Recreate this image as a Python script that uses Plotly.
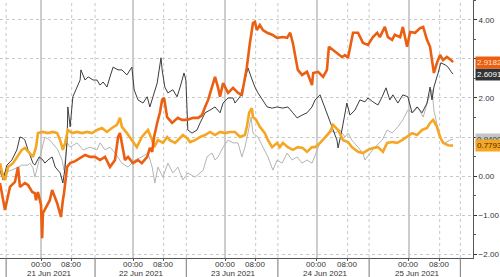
import plotly.graph_objects as go

# time in hours since 21 Jun 2021 00:00, value
orange = [(-10.7,-0.18),(-9.4,-0.87),(-8.1,-0.28),(-6.8,-0.15),(-6.0,0.23),(-5.5,-0.28),(-4.2,-0.18),(-3.4,-0.23),
          (-2.3,-0.41),(-1.6,-0.44),(-1.3,-0.62),(-0.8,-0.41),(0.0,-0.74),(0.3,-1.59),(0.5,-0.95),(1.6,-0.77),
          (2.3,-0.62),(2.9,-0.36),(3.7,-0.54),(4.2,-0.69),(4.7,-0.87),(5.2,-1.05),(5.7,-0.62),(6.0,-0.44),
          (6.8,0.23),(7.6,0.33),(8.9,0.38),(10.2,0.46),(11.5,0.54),(12.8,0.49),(14.1,0.49),(15.4,0.41),
          (16.7,0.49),(17.5,0.33),(18.0,0.23),(19.3,0.41),(20.1,1.00),(20.6,1.10),(21.9,0.41),(22.7,0.49),
          (24.0,0.33),(25.3,0.41),(26.3,0.33),(27.7,0.49),(28.4,0.72),(29.0,0.62),(29.5,1.00),(30.3,1.36),
          (31.0,1.62),(31.6,1.95),(32.1,2.00),(32.9,1.51),(34.2,1.36),(35.7,1.49),(36.8,1.44),(38.1,1.44),
          (39.7,1.49),(41.0,1.49),(42.0,1.56),(42.8,1.77),(43.6,1.95),(44.6,2.28),(45.4,2.54),(46.2,2.26),
          (46.7,2.03),(47.5,2.38),(48.8,2.13),(50.1,2.26),(50.6,2.21),(51.4,2.13),(52.4,2.08),(53.2,2.46),
          (53.7,2.79),(54.5,3.41),(55.3,3.92),(55.8,3.95),(56.3,3.74),(57.1,3.87),(57.9,3.74),(59.0,3.67),
          (60.3,3.62),(61.6,3.54),(63.1,3.56),(64.2,3.54),(65.0,3.67),(65.7,3.41),(66.3,3.05),(67.0,2.72),
          (68.1,2.59),(69.4,2.67),(70.2,2.46),(70.7,2.33),(71.0,2.64),(72.3,2.67),(73.6,2.54),(74.6,2.72),
          (75.1,3.31),(76.2,3.23),(77.2,3.15),(78.5,3.05),(79.3,3.10),(80.1,3.03),(81.4,3.67),(82.7,3.67),
          (84.0,3.41),(85.3,3.36),(86.6,3.56),(87.7,3.67),(88.4,3.56),(89.7,3.82),(90.5,3.56),(91.6,3.49),
          (92.3,3.62),(93.7,3.56),(94.4,3.82),(95.5,3.31),(96.3,3.69),(97.6,3.67),(98.9,3.79),(99.7,3.82),
          (100.7,3.49),(101.5,3.31),(102.0,2.97),(102.5,2.64),(103.3,2.90),(104.1,3.10),(104.9,2.97),
          (105.9,3.05),(107.0,2.97),(107.5,2.92)]

dark = [(-10.7,0.15),(-9.9,-0.10),(-8.9,0.28),(-7.6,0.41),(-6.3,0.67),(-5.5,1.00),(-4.7,0.97),(-4.2,0.92),
        (-3.4,0.67),(-2.1,0.33),(-1.6,0.28),(-0.5,0.49),(0.5,0.41),(1.0,0.33),(1.8,0.41),(2.9,0.49),
        (3.7,0.23),(4.4,0.15),(5.0,0.08),(5.7,-0.18),(6.3,0.23),(6.8,0.92),(7.0,1.77),(7.6,1.26),
        (8.3,2.03),(9.1,2.21),(10.2,2.46),(10.4,2.72),(11.5,2.46),(12.3,2.54),(13.6,2.46),(14.6,2.46),
        (15.4,2.33),(16.2,2.41),(17.2,2.28),(18.0,2.54),(18.8,2.79),(20.1,2.72),(21.1,2.72),(22.4,2.59),
        (23.7,2.79),(24.3,2.21),(25.3,1.95),(26.6,1.87),(27.7,2.03),(28.4,1.77),(29.2,2.03),(30.3,2.38),
        (31.3,3.03),(31.6,2.72),(32.3,2.28),(33.1,2.13),(34.4,2.21),(35.5,2.03),(36.3,2.28),(37.3,2.64),
        (37.8,2.46),(38.3,1.18),(39.4,1.10),(40.7,1.18),(41.5,1.36),(42.8,1.62),(44.1,1.69),(45.4,1.77),
        (46.7,1.62),(47.5,1.87),(48.8,2.00),(50.1,2.00),(50.6,1.87),(51.9,2.03),(53.2,2.46),(54.0,2.77),
        (54.8,2.54),(55.8,2.28),(56.6,2.13),(57.9,1.95),(59.0,1.77),(60.3,1.74),(61.6,1.77),(63.1,1.74),
        (64.4,1.77),(65.7,1.62),(66.8,1.49),(68.1,1.56),(69.4,1.62),(70.7,1.77),(71.5,1.95),(72.8,2.08),
        (73.6,1.87),(74.9,1.51),(75.9,1.26),(77.2,0.92),(77.5,0.72),(78.5,1.18),(79.8,1.87),(80.6,1.56),
        (81.9,1.69),(83.2,1.95),(84.5,1.90),(85.3,2.00),(86.6,1.90),(87.9,1.82),(89.0,2.03),(90.0,2.26),
        (91.0,1.95),(91.8,2.08),(93.1,1.87),(94.4,2.08),(95.7,2.03),(96.8,1.62),(98.1,1.77),(99.4,1.62),
        (100.7,1.87),(101.5,2.28),(102.0,1.95),(102.5,2.28),(103.6,2.64),(104.3,2.90),(105.4,2.85),
        (106.2,2.79),(107.0,2.67),(107.5,2.61)]

light = [(-10.7,0.03),(-8.9,0.10),(-7.6,0.15),(-6.3,0.21),(-5.0,0.28),(-3.4,0.28),(-2.9,0.33),(-2.1,0.21),
         (-1.6,-0.03),(-0.3,0.49),(1.0,1.00),(2.3,0.92),(3.7,0.74),(4.4,0.67),(5.5,0.41),(6.0,0.15),
         (6.8,0.85),(7.6,0.74),(9.4,0.85),(11.0,0.67),(12.8,0.74),(14.6,0.67),(15.4,0.85),(16.7,0.67),
         (18.0,0.74),(19.3,0.59),(21.1,0.33),(22.7,0.23),(24.5,0.41),(26.3,0.49),(27.9,0.59),(29.0,0.23),
         (29.7,-0.18),(30.5,0.23),(31.8,-0.03),(33.1,0.33),(34.4,0.08),(35.7,0.23),(37.0,-0.10),(38.3,0.08),
         (40.2,-0.03),(41.5,0.08),(42.3,0.15),(43.3,0.49),(44.6,0.59),(45.4,0.41),(46.2,0.49),(47.5,0.74),
         (48.8,0.92),(50.1,0.85),(51.4,0.85),(52.4,0.49),(53.2,0.74),(54.0,1.10),(54.8,1.51),(55.3,1.10),
         (56.6,1.00),(57.9,0.74),(59.2,0.49),(60.5,0.15),(61.6,0.41),(62.9,0.33),(64.2,0.59),(65.5,0.41),
         (66.8,0.49),(68.1,0.33),(69.4,0.41),(70.7,0.33),(71.7,0.59),(72.8,0.85),(74.1,1.00),(75.4,1.18),
         (76.7,1.10),(78.0,1.18),(79.3,1.00),(80.1,1.10),(81.1,0.92),(82.7,0.74),(84.0,0.59),(84.5,0.41),
         (85.8,0.59),(87.1,0.74),(89.0,0.92),(90.3,1.18),(91.6,1.10),(93.1,1.26),(94.4,1.44),(95.7,1.69),
         (97.0,1.62),(98.3,1.77),(99.7,1.51),(101.0,1.95),(102.0,2.21),(102.5,1.69),(103.6,1.18),
         (104.6,0.92),(105.4,0.85),(106.7,0.92),(107.5,0.94)]

gold = [(-10.7,0.33),(-9.9,-0.03),(-9.4,-0.10),(-8.6,0.23),(-7.3,0.33),(-6.3,0.49),(-5.0,0.67),(-4.2,0.72),
        (-2.9,0.59),(-2.1,0.49),(-1.3,0.74),(-0.8,1.10),(0.5,1.13),(1.8,1.10),(3.1,1.13),(4.2,1.10),
        (5.0,0.92),(5.7,0.67),(6.3,0.85),(7.0,1.18),(8.1,1.10),(9.4,1.13),(10.7,1.10),(12.0,1.13),
        (13.3,1.10),(14.6,1.18),(15.9,1.23),(17.2,1.13),(18.5,1.23),(19.8,1.31),(20.6,1.49),(21.1,1.26),
        (22.4,1.10),(23.7,0.92),(25.0,0.74),(26.3,1.00),(27.9,1.18),(29.0,0.92),(29.5,0.74),(30.5,0.92),
        (31.8,0.85),(32.9,1.00),(33.6,0.92),(35.0,0.85),(36.3,0.97),(37.0,1.05),(38.1,0.97),(38.9,0.87),
        (40.2,0.92),(41.5,1.00),(42.8,1.05),(44.1,1.13),(45.4,1.05),(46.7,1.13),(48.0,1.10),(49.3,1.13),
        (50.6,1.13),(51.9,1.00),(53.2,1.05),(53.7,1.26),(54.3,1.62),(55.0,1.74),(55.3,1.51),(56.1,1.44),
        (57.1,1.26),(58.4,1.10),(59.2,0.92),(60.3,0.74),(61.6,0.85),(62.3,0.74),(63.1,0.85),(64.4,0.74),
        (65.7,0.67),(67.0,0.74),(68.3,0.72),(69.4,0.62),(70.7,0.74),(71.5,0.74),(72.8,0.85),(74.1,1.00),
        (75.4,1.13),(76.2,1.31),(77.5,1.18),(78.8,0.92),(80.1,0.87),(81.1,0.74),(82.7,0.62),(84.0,0.59),
        (85.3,0.67),(86.6,0.72),(87.9,0.74),(89.2,0.62),(90.3,0.85),(91.6,0.87),(92.9,0.85),(94.2,0.92),
        (95.5,1.00),(96.8,1.10),(98.1,1.05),(99.4,1.18),(100.7,1.23),(101.5,1.36),(102.3,1.44),
        (103.3,1.26),(104.1,1.00),(104.9,0.85),(106.2,0.79),(107.5,0.78)]

last_labels = ["2.9182", "2.6091", "0.9400", "0.7793"]
last_values = [2.9182, 2.6091, 0.9400, 0.7793]

day_labels = ["21 Jun 2021", "22 Jun 2021", "23 Jun 2021", "24 Jun 2021", "25 Jun 2021"]
midnights = [0, 24, 48, 72, 96]
tick_hours = [0, 8, 24, 32, 48, 56, 72, 80, 96, 104]
tick_text = ["00:00", "08:00"] * 5
separators = [-9.1, 14.1, 37.9, 61.8, 85.6, 109.4]

series = [
    (light, "#b4b4b4", 1.0),
    (dark, "#3c3c3c", 1.0),
    (gold, "#f5a623", 2.6),
    (orange, "#eb5f12", 2.6),
]

fig = go.Figure()
for data, color, width in series:
    fig.add_trace(go.Scatter(x=[p[0] for p in data], y=[p[1] for p in data], mode="lines",
                             line=dict(color=color, width=width), hoverinfo="skip"))

shapes = []
for m in midnights:
    shapes.append(dict(type="line", xref="x", yref="paper", x0=m, x1=m, y0=0, y1=1,
                       line=dict(color="#9a9a9a", width=1), layer="below"))
for h in tick_hours:
    if h % 24 == 8:
        shapes.append(dict(type="line", xref="x", yref="paper", x0=h, x1=h, y0=0, y1=1,
                           line=dict(color="#c8c8c8", width=1, dash="dot"), layer="below"))
for s in separators:
    shapes.append(dict(type="line", xref="x", yref="paper", x0=s, x1=s, y0=0, y1=1,
                       line=dict(color="#c8c8c8", width=1, dash="dot"), layer="below"))
    shapes.append(dict(type="line", xref="x", yref="paper", x0=s, x1=s, y0=0, y1=-0.08,
                       line=dict(color="#777777", width=1)))

annotations = []
# time-of-day tick labels (first row under the axis)
for h, t in zip(tick_hours, tick_text):
    annotations.append(dict(x=h, y=-0.024, xref="x", yref="paper", text=t, showarrow=False,
                            xanchor="center", yanchor="middle", font=dict(size=8, color="#333333")))
# date labels (second row)
for i, lab in enumerate(day_labels):
    annotations.append(dict(x=midnights[i] + 2.3, y=-0.06, xref="x", yref="paper", text=lab,
                            showarrow=False, xanchor="center", yanchor="middle",
                            font=dict(size=8, color="#333333")))
# last-value tags on the right axis
label_specs = [
    (last_labels[2], last_values[2], "#c4c4c4", "#333333"),
    (last_labels[3], last_values[3], "#f5a623", "#4a2a00"),
    (last_labels[1], last_values[1], "#333333", "#ffffff"),
    (last_labels[0], last_values[0], "#eb5f12", "#ffe2cc"),
]
for text, val, bg, fc in label_specs:
    annotations.append(dict(x=1, y=val, xref="paper", yref="y", text=text, showarrow=False,
                            xanchor="left", yanchor="middle", xshift=2, bgcolor=bg, borderpad=1,
                            font=dict(size=8, color=fc)))

fig.update_layout(
    width=500, height=277,
    margin=dict(l=0, r=27, t=0, b=19, autoexpand=False),
    paper_bgcolor="white", plot_bgcolor="white",
    showlegend=False,
    font=dict(family="Liberation Sans, Arial, sans-serif", size=8, color="#333333"),
    shapes=shapes, annotations=annotations,
    xaxis=dict(range=[-10.7, 112.7], tickvals=tick_hours, showticklabels=False, automargin=False,
               showgrid=False, zeroline=False, showline=True, linecolor="#555555", linewidth=1,
               ticks="outside", ticklen=2, tickcolor="#555555"),
    yaxis=dict(range=[-2.1, 4.51], side="right", dtick=1, tick0=0, tickformat=".2f", automargin=False,
               showgrid=True, gridcolor="#c8c8c8", griddash="dot", gridwidth=1,
               zeroline=False, showline=True, linecolor="#555555", linewidth=1,
               ticks="outside", ticklen=3, tickcolor="#333333",
               minor=dict(dtick=0.5, ticks="outside", ticklen=2, tickcolor="#555555", showgrid=False),
               tickfont=dict(size=8, color="#333333")),
)

fig.write_html("out.html")
